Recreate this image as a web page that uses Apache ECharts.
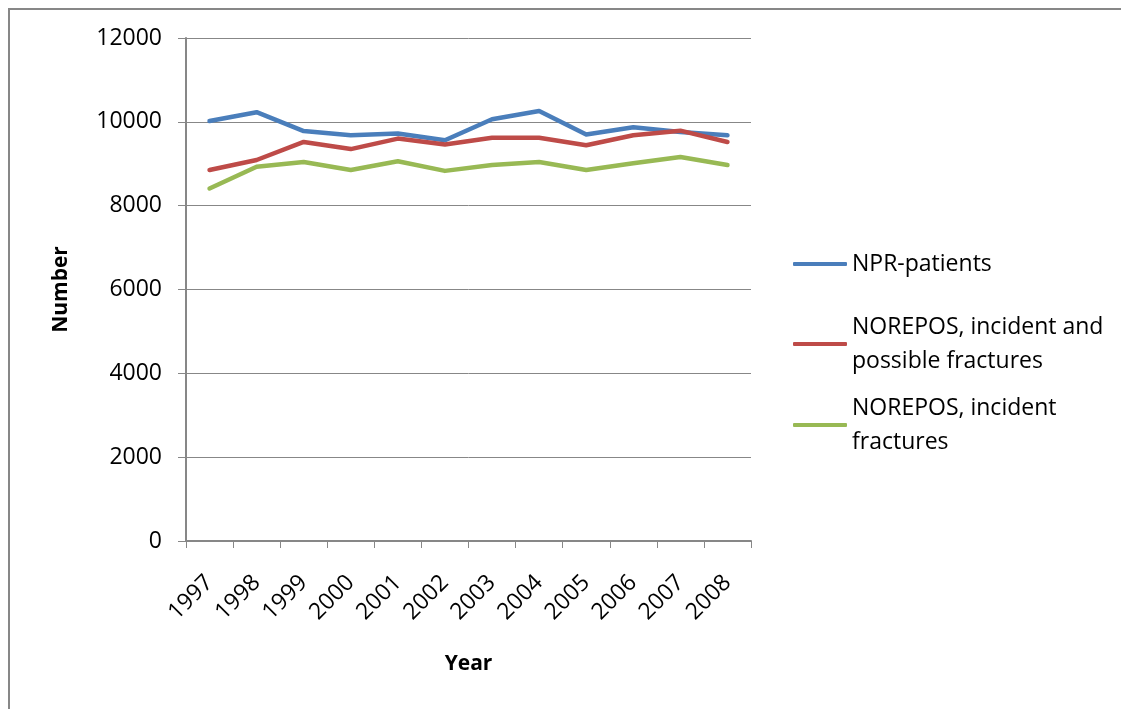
<!DOCTYPE html>
<html>
<head>
<meta charset="utf-8">
<script src="https://cdn.jsdelivr.net/npm/echarts@6/dist/echarts.min.js"></script>
<style>
  html, body { margin: 0; padding: 0; background: #fff; }
  #chart { width: 1121px; height: 709px; }
</style>
</head>
<body>
<div id="chart"></div>
<script>
// Annual counts, 1997-2008
const years = ['1997', '1998', '1999', '2000', '2001', '2002', '2003', '2004', '2005', '2006', '2007', '2008'];
const nprPatients = [10020, 10230, 9780, 9680, 9720, 9560, 10060, 10260, 9700, 9870, 9760, 9680];
const noreposPossible = [8850, 9090, 9520, 9350, 9600, 9460, 9620, 9620, 9440, 9680, 9790, 9520];
const noreposIncident = [8410, 8930, 9040, 8850, 9060, 8830, 8970, 9040, 8850, 9010, 9160, 8970];
const yTicks = { min: 0, max: 12000, interval: 2000 };

const FONT = '"Open Sans", "Liberation Sans", sans-serif';
const GREY = '#878787';

const names = ['NPR-patients', 'NOREPOS, incident and possible fractures', 'NOREPOS, incident fractures'];
const legendLabels = {
  'NPR-patients': 'NPR-patients',
  'NOREPOS, incident and possible fractures': 'NOREPOS, incident and\npossible fractures',
  'NOREPOS, incident fractures': 'NOREPOS, incident\nfractures'
};

function legendAt(name, top, twoLines) {
  return {
    data: [name],
    orient: 'vertical',
    left: 793,
    top: top,
    padding: 0,
    icon: 'roundRect',
    itemWidth: 54,
    itemHeight: 4,
    selectedMode: false,
    formatter: n => legendLabels[n],
    textStyle: {
      fontFamily: FONT,
      fontSize: 23,
      color: '#000',
      lineHeight: 34,
      // extra top space keeps the key line level with the first text line
      padding: twoLines ? [34, 0, 0, 0] : 0
    }
  };
}

const chart = echarts.init(document.getElementById('chart'), null, { renderer: 'canvas' });

chart.setOption({
  animation: false,
  backgroundColor: '#fff',
  color: ['#4a7ebb', '#be4b48', '#98b954'],
  graphic: [{
    type: 'polyline',
    shape: { points: [[9, 709], [9, 9], [1121, 9]] },
    style: { fill: null, stroke: GREY, lineWidth: 2 },
    silent: true
  }],
  legend: [
    legendAt(names[0], 247, false),
    legendAt(names[1], 293, true),
    legendAt(names[2], 374, true)
  ],
  grid: { left: 186, right: 370, top: 38, bottom: 168, containLabel: false },
  xAxis: {
    type: 'category',
    data: years,
    boundaryGap: true,
    name: 'Year',
    nameLocation: 'middle',
    nameGap: 113,
    nameTextStyle: { fontFamily: FONT, fontSize: 21, fontWeight: 'bold', color: '#000' },
    axisLine: { lineStyle: { color: GREY, width: 2 } },
    axisTick: { show: true, alignWithLabel: false, length: 7, lineStyle: { color: GREY, width: 1 } },
    axisLabel: {
      interval: 0,
      rotate: 45,
      margin: 38,
      fontFamily: FONT,
      fontSize: 23,
      color: '#000',
      padding: [23, 0, 0, 0]
    },
    splitLine: { show: false }
  },
  yAxis: {
    type: 'value',
    min: yTicks.min,
    max: yTicks.max,
    interval: yTicks.interval,
    name: 'Number',
    nameLocation: 'middle',
    nameGap: 114,
    nameTextStyle: { fontFamily: FONT, fontSize: 21, fontWeight: 'bold', color: '#000' },
    axisLine: { show: true, lineStyle: { color: GREY, width: 2 } },
    axisTick: { show: true, length: 8, lineStyle: { color: GREY, width: 1 } },
    axisLabel: {
      margin: 24,
      fontFamily: FONT,
      fontSize: 23,
      color: '#000',
      formatter: v => String(v)
    },
    splitLine: { show: true, lineStyle: { color: GREY, width: 1 } }
  },
  series: [
    { name: names[0], data: nprPatients },
    { name: names[1], data: noreposPossible },
    { name: names[2], data: noreposIncident }
  ].map(s => ({
    type: 'line',
    name: s.name,
    data: s.data,
    symbol: 'none',
    smooth: false,
    lineStyle: { width: 4.5, cap: 'round', join: 'round' }
  }))
});
</script>
</body>
</html>
